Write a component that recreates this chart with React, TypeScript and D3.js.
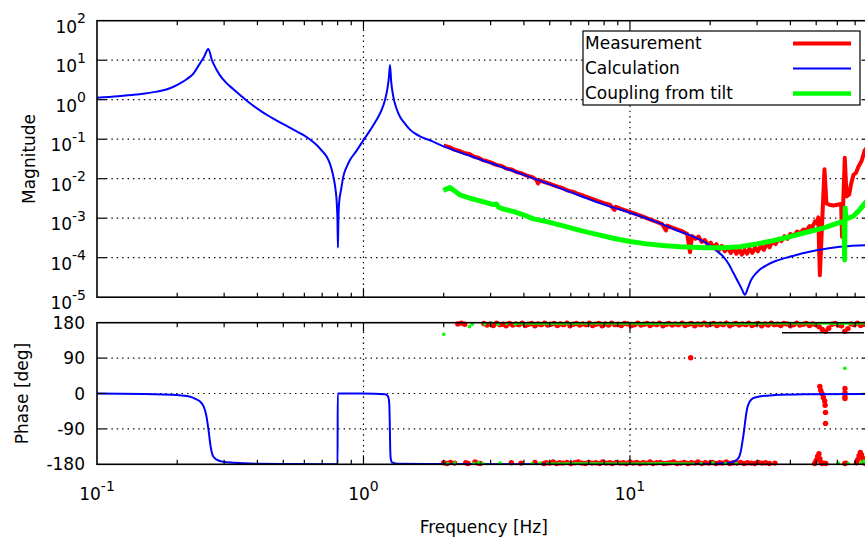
import React from "react";
import * as d3 from "d3";

const W = 865;
const H = 539;

// ---------- Calculation (blue) ----------
const calcFreq = [0.1, 0.12, 0.14, 0.1675, 0.188, 0.205, 0.217, 0.23, 0.2435, 0.252, 0.2617, 0.27, 0.28, 0.289, 0.305, 0.325, 0.345, 0.364, 0.386, 0.415, 0.446, 0.48, 0.515, 0.555, 0.594, 0.63, 0.667, 0.7, 0.728, 0.75, 0.771, 0.785, 0.794, 0.799, 0.802, 0.805, 0.81, 0.825, 0.84, 0.865, 0.89, 0.94, 1.0, 1.06, 1.12, 1.17, 1.205, 1.23, 1.245, 1.258, 1.27, 1.294, 1.33, 1.371, 1.43, 1.495, 1.56, 1.63, 1.777, 2.0, 2.5, 3.0, 4.0, 5.0, 6.5, 8.0, 10, 12.5, 15.4, 17.3, 19.4, 21, 22.4, 23.5, 24.4, 25.5, 26.3, 27.0, 27.7, 28.4, 29.0, 30.5, 32.6, 35.5, 39.8, 44.5, 50.2, 55, 61.4, 68, 76.2, 80];
const calcMag = [1.12, 1.22, 1.35, 1.6, 1.95, 2.6, 3.3, 4.6, 8.3, 12, 19.2, 10, 6.0, 4.2, 2.7, 1.85, 1.3, 0.95, 0.7, 0.5, 0.37, 0.28, 0.216, 0.165, 0.128, 0.098, 0.071, 0.05, 0.036, 0.023, 0.0113, 0.0055, 0.0024, 8e-4, 1.8e-4, 8e-4, 0.0024, 0.0055, 0.0113, 0.02, 0.0297, 0.05, 0.095, 0.17, 0.31, 0.55, 1.0, 1.9, 3.5, 7.6, 3.0, 1.2, 0.6, 0.37, 0.25, 0.175, 0.14, 0.118, 0.093, 0.066, 0.038, 0.025, 0.0125, 7.2e-3, 3.7e-3, 2.2e-3, 1.38e-3, 8.2e-4, 4.6e-4, 3.4e-4, 2.3e-4, 1.55e-4, 1.06e-4, 6.8e-5, 4.2e-5, 2.4e-5, 1.6e-5, 1.15e-5, 1.7e-5, 2.6e-5, 3.3e-5, 4.8e-5, 6.5e-5, 8.4e-5, 1.06e-4, 1.3e-4, 1.55e-4, 1.72e-4, 1.9e-4, 2.0e-4, 2.08e-4, 2.1e-4];
const calcPhaseFreq = [0.1, 0.15, 0.2, 0.22, 0.235, 0.245, 0.252, 0.257, 0.262, 0.267, 0.272, 0.281, 0.3, 0.325, 0.4, 0.6, 0.7995, 0.8005, 0.9, 1.1, 1.2, 1.23, 1.245, 1.252, 1.256, 1.26, 1.265, 1.28, 1.35, 2, 10, 20, 23, 24.5, 25.5, 26.0, 26.4, 26.8, 27.1, 27.6, 28.2, 29, 31, 35, 45, 80];
const calcPhase = [0, -1, -4, -7, -14, -22, -35, -55, -92, -135, -158, -168, -174, -176, -178.5, -179.5, -180, 0, 0, -0.5, -2, -5, -15, -40, -90, -140, -165, -175, -178.5, -179.5, -180, -179, -177, -173, -165, -150, -125, -95, -68, -35, -20, -12, -7, -4, -2, -1];

// ---------- Measurement (red) ----------
const measFreq = [2.0, 2.1, 2.2, 2.3, 2.4, 2.5, 2.6, 2.7, 2.8, 2.9, 3.0, 3.15, 3.3, 3.45, 3.6, 3.75, 3.9, 4.1, 4.3, 4.45, 4.52, 4.6, 4.75, 4.9, 5.1, 5.35, 5.6, 5.85, 6.1, 6.4, 6.7, 7.0, 7.3, 7.6, 8.0, 8.4, 8.75, 8.85, 9.2, 9.6, 10, 10.5, 11, 11.5, 12, 12.6, 13.2, 13.65, 13.8, 14.4, 15, 15.7, 16.4, 16.8, 17.1, 17.6, 18.1, 18.6, 19.1, 19.6, 20.1, 20.6, 21.1, 21.6, 22.1, 22.7, 23.3, 23.9, 24.5, 25.1, 25.7, 26.3, 26.9, 27.5, 28.1, 28.8, 29.5, 30.2, 31.0, 31.8, 32.6, 33.4, 34.3, 35.2, 36.1, 37.0, 38.0, 39.0, 40.0, 41.2, 42.4, 43.6, 44.8, 46.0, 47.2, 48.4, 49.5, 50.3, 50.9, 51.6, 53.7, 54.6, 56, 58, 60, 62.0, 62.5, 64.0, 65, 66.5, 67.5, 69, 70.5, 72, 74, 76, 80];
const measMag = [6.9e-2, 6.3e-2, 5.4e-2, 5.0e-2, 4.4e-2, 4.2e-2, 3.6e-2, 3.4e-2, 2.95e-2, 2.8e-2, 2.6e-2, 2.24e-2, 2.09e-2, 1.78e-2, 1.7e-2, 1.48e-2, 1.38e-2, 1.2e-2, 1.1e-2, 9.5e-3, 7.6e-3, 9.1e-3, 8.3e-3, 7.8e-3, 7.1e-3, 6.3e-3, 5.75e-3, 5.0e-3, 4.7e-3, 4.1e-3, 3.7e-3, 3.3e-3, 3.0e-3, 2.7e-3, 2.4e-3, 2.2e-3, 1.62e-3, 1.95e-3, 1.74e-3, 1.58e-3, 1.45e-3, 1.29e-3, 1.15e-3, 1.02e-3, 9.1e-4, 8.1e-4, 7.1e-4, 4.9e-4, 6.5e-4, 5.75e-4, 5.2e-4, 4.7e-4, 4.0e-4, 1.38e-4, 3.55e-4, 3.0e-4, 3.4e-4, 2.5e-4, 2.8e-4, 2.1e-4, 2.4e-4, 1.78e-4, 2.2e-4, 1.58e-4, 2.0e-4, 1.45e-4, 1.82e-4, 1.32e-4, 1.74e-4, 1.26e-4, 1.66e-4, 1.2e-4, 1.58e-4, 1.26e-4, 1.7e-4, 1.32e-4, 1.82e-4, 1.45e-4, 2.0e-4, 1.58e-4, 2.3e-4, 1.82e-4, 2.63e-4, 2.2e-4, 3.0e-4, 2.63e-4, 3.5e-4, 3.0e-4, 4.0e-4, 3.55e-4, 4.6e-4, 4.2e-4, 5.2e-4, 5.0e-4, 6.3e-4, 6.0e-4, 8.3e-4, 7.6e-4, 1.05e-3, 3.6e-5, 1.74e-2, 2.4e-3, 2.2e-3, 2.1e-3, 2.2e-3, 2.3e-3, 3.4e-4, 3.4e-2, 3.55e-3, 4.0e-3, 7.1e-3, 1.26e-2, 1.41e-2, 2.0e-2, 2.8e-2, 5.2e-2, 7.9e-2];

// ---------- Coupling from tilt (green) ----------
const tiltFreq = [1.993, 2.11, 2.3, 2.51, 2.74, 3.07, 3.15, 3.21, 3.35, 3.65, 3.98, 4.34, 4.87, 5.62, 6.49, 7.5, 8.65, 10, 11.55, 13.3, 15.4, 19.4, 22.4, 25.9, 29.9, 34.5, 39.8, 46, 53.1, 61.4, 63.6, 63.9, 64.2, 64.6, 68.9, 72.5, 76.2, 80];
const tiltMag = [5.0e-3, 6.0e-3, 3.9e-3, 3.2e-3, 2.75e-3, 2.2e-3, 2.3e-3, 1.9e-3, 1.7e-3, 1.48e-3, 1.22e-3, 9.6e-4, 8.2e-4, 6.4e-4, 4.9e-4, 3.9e-4, 3.1e-4, 2.57e-4, 2.24e-4, 2.04e-4, 1.9e-4, 1.78e-4, 1.78e-4, 1.9e-4, 2.24e-4, 2.7e-4, 3.4e-4, 4.4e-4, 5.6e-4, 7.8e-4, 8.3e-4, 8.7e-5, 1.82e-3, 9.5e-4, 1.12e-3, 1.58e-3, 2.4e-3, 3.55e-3];

// ---------- Phase scatter: measurement (red) ----------
const measPhTopFreq = [2.26, 2.33, 2.40, 2.83, 2.91, 2.99, 3.07, 3.16, 3.25, 3.34, 3.43, 3.53, 3.63, 3.73, 3.83, 3.94, 4.05, 4.16, 4.28, 4.40, 4.52, 4.65, 4.78, 4.91, 5.05, 5.19, 5.34, 5.49, 5.64, 5.80, 5.96, 6.13, 6.30, 6.48, 6.66, 6.85, 7.04, 7.24, 7.44, 7.65, 7.86, 8.08, 8.31, 8.54, 8.78, 9.03, 9.28, 9.54, 9.81, 10.1, 10.4, 10.7, 11.0, 11.3, 11.6, 11.9, 12.2, 12.6, 12.9, 13.3, 13.7, 14.0, 14.4, 14.8, 15.2, 15.7, 16.1, 16.6, 17.0, 17.5, 18.0, 18.5, 19.0, 19.5, 20.1, 20.6, 21.2, 21.8, 22.4, 23.0, 23.7, 24.3, 25.0, 25.7, 26.4, 27.2, 27.9, 28.7, 29.5, 30.3, 31.2, 32.1, 33.0, 33.9, 34.8, 35.8, 36.8, 37.8, 38.9, 40.0, 41.1, 42.3, 43.4, 44.7, 45.9, 47.2, 48.5, 49.9, 51.3, 52.7, 54.2, 55.7, 57.3, 58.9, 60.5, 62.2, 64.0, 65.8, 67.6, 69.5, 71.4, 73.4, 75.5, 77.6, 79.8];
const measPhTop = [177, 179, 176, 178, 174, 177, 173, 179, 175, 176, 172, 178, 174, 177, 175, 179, 173, 176, 178, 172, 177, 175, 179, 174, 176, 178, 173, 177, 175, 179, 172, 176, 178, 174, 177, 175, 179, 173, 176, 178, 172, 177, 174, 179, 175, 176, 173, 178, 177, 172, 175, 179, 174, 176, 178, 173, 177, 175, 179, 172, 176, 178, 174, 177, 175, 179, 173, 176, 178, 172, 177, 175, 179, 174, 176, 178, 173, 177, 175, 179, 172, 176, 178, 174, 177, 175, 179, 173, 176, 178, 172, 177, 174, 179, 175, 176, 173, 178, 177, 172, 175, 179, 174, 176, 178, 173, 177, 175, 170, 163, 158, 166, 176, 178, 174, 172, 158, 165, 177, 175, 179, 173, 176, 178, 174];
const measPhBotFreq = [2.0, 2.06, 2.12, 2.2, 2.42, 2.47, 2.62, 2.68, 2.74, 3.59, 3.9, 4.4, 4.75, 4.85, 5.0, 5.15, 5.3, 5.45, 5.6, 5.8, 6.0, 6.2, 6.4, 6.6, 6.8, 7.0, 7.2, 7.45, 7.7, 7.9, 8.15, 8.4, 8.6, 8.9, 9.2, 9.45, 9.7, 10.0, 10.3, 10.6, 10.9, 11.2, 11.5, 11.9, 12.2, 12.6, 13.0, 13.4, 13.8, 14.2, 14.6, 15.0, 15.5, 16.0, 16.5, 17.0, 17.5, 18.0, 18.6, 19.2, 19.8, 20.4, 21.0, 21.7, 22.3, 23.0, 23.7, 24.4, 25.2, 26.0, 26.8, 27.6, 28.5, 29.4, 30.3, 31.3, 32.3, 33.4, 35.0, 49.3, 50.0, 50.6, 51.2, 51.6, 52.1, 52.6, 53.4, 54.3, 64.0, 64.6, 70.8, 71.6, 72.4, 73.2, 74.0, 74.8, 75.6, 76.4];
const measPhBot = [-176, -178, -175, -177, -176, -178, -174, -177, -178, -176, -177, -175, -178, -176, -177, -174, -178, -176, -177, -175, -178, -176, -174, -177, -178, -175, -177, -176, -178, -174, -177, -176, -178, -175, -177, -176, -178, -174, -177, -175, -178, -176, -177, -174, -178, -176, -175, -178, -177, -176, -174, -178, -177, -175, -178, -176, -177, -174, -178, -176, -177, -175, -178, -176, -177, -174, -178, -176, -177, -175, -178, -176, -177, -178, -175, -177, -176, -178, -177, -178, -170, -160, -153, -166, -175, -178, -177, -178, -178, -177, -176, -168, -158, -150, -156, -165, -174, -178];
const measPhOutFreq = [16.9, 51.6, 52.0, 52.5, 53.2, 53.8, 54.0, 54.2, 54.2, 64.1, 64.1, 64.1, 64.1];
const measPhOut = [91, 18, 8, 0, -10, -19, -30, -48, -76, 13, 2, -8, -13];

// ---------- Phase: coupling from tilt (green) ----------
const tiltPhFreq = [2.0, 2.07, 2.2, 2.5, 2.56, 2.6, 2.7, 2.8, 2.85, 3.0, 3.2, 3.25, 3.45, 3.7, 4.3, 4.6, 18.5, 20.5, 22.8, 25.1, 60.5, 64.0, 66.0, 73.5, 75.5, 76.5];
const tiltPh = [150.5, -178, -177, 170, 176, -178, -176, -178, 177, 179, 176, -177, 178, 177, -178, -177, -178, -177, -178, -178, -177, 64, -178, -176, -172, -177];
const tiltBandTopFreq = [3.7, 5, 8, 12, 20, 30, 45, 60, 80];
const tiltBandTop = [178.5, 178.3, 178.6, 178.4, 178.6, 178.4, 178.5, 178.3, 178.5];
const tiltBandBotFreq = [4.85, 7, 10, 13, 17.5];
const tiltBandBot = [-178.6, -178.4, -178.6, -178.4, -178.6];
const blackSegFreq = [37.2, 75.6];
const blackSegPhase = [154.6, 154.6];

// ---------- axes ----------
const magTicks = [1e-5, 1e-4, 1e-3, 1e-2, 1e-1, 1e0, 1e1, 1e2];
const magExps = ["-5", "-4", "-3", "-2", "-1", "0", "1", "2"];
const phaseTicks = [-180, -90, 0, 90, 180];
const freqMajor = [0.1, 1, 10];
const freqExps = ["-1", "0", "1"];
const freqMinor = [0.2, 0.3, 0.4, 0.5, 0.6, 0.7, 0.8, 0.9, 2, 3, 4, 5, 6, 7, 8, 9, 20, 30, 40, 50, 60, 70];

const legendLabels = ["Measurement", "Calculation", "Coupling from tilt"];
const legendColors = ["#ff0000", "#0000ff", "#00ff00"];
const legendWidths = [4, 2, 4.5];

const FONT = "'DejaVu Sans', Verdana, sans-serif";

export default function App() {
  const L = 97, R = 870.6;
  const x = d3.scaleLog().domain([0.1, 80]).range([L, R]);
  const yM = d3.scaleLog().domain([1e-5, 1e2]).range([297.2, 20.7]);
  const yP = d3.scaleLinear().domain([-180, 180]).range([464.3, 322.7]);

  const magLine = d3.line<[number, number]>().x((d) => x(d[0])).y((d) => yM(d[1]));
  const magLineSmooth = d3.line<[number, number]>().x((d) => x(d[0])).y((d) => yM(d[1])).curve(d3.curveMonotoneX);
  const phLine = d3.line<[number, number]>().x((d) => x(d[0])).y((d) => yP(d[1]));
  const phLineSmooth = d3.line<[number, number]>().x((d) => x(d[0])).y((d) => yP(d[1])).curve(d3.curveMonotoneX);

  const zip = (a: number[], b: number[]) => a.map((v, i) => [v, b[i]] as [number, number]);

  const topY0 = yM(1e2), topY1 = yM(1e-5);
  const botY0 = yP(180), botY1 = yP(-180);
  const dotted = "1.4 4";
  const bw = 1.6;

  const xTicksFor = (y0: number, y1: number, key: string) => (
    <g key={key} stroke="#000" strokeWidth={1.2}>
      {freqMinor.map((f) => (
        <g key={"m" + f}>
          <line x1={x(f)} x2={x(f)} y1={y1} y2={y1 - 4.5} />
          <line x1={x(f)} x2={x(f)} y1={y0} y2={y0 + 4.5} />
        </g>
      ))}
      {[1, 10].map((f) => (
        <g key={"M" + f}>
          <line x1={x(f)} x2={x(f)} y1={y1} y2={y1 - 9} />
          <line x1={x(f)} x2={x(f)} y1={y0} y2={y0 + 9} />
        </g>
      ))}
    </g>
  );

  return (
    <svg width={W} height={H} style={{ position: "absolute", left: 0, top: 0, background: "#fff" }} fontFamily={FONT}>
      <defs>
        <clipPath id="clipTop">
          <rect x={L} y={topY0} width={R - L} height={topY1 - topY0} />
        </clipPath>
        <clipPath id="clipBot">
          <rect x={L} y={botY0 - 5} width={R - L} height={botY1 - botY0 + 10} />
        </clipPath>
        <clipPath id="clipBotLine">
          <rect x={L} y={botY0} width={R - L} height={botY1 - botY0} />
        </clipPath>
      </defs>
      <rect x={0} y={0} width={W} height={H} fill="#fff" />

      {/* grids */}
      <g stroke="#000" strokeWidth={1.2} strokeDasharray={dotted}>
        {magTicks.slice(1, -1).map((m) => (
          <line key={"gm" + m} x1={L + 9} x2={R - 9} y1={yM(m)} y2={yM(m)} />
        ))}
        {[1, 10].map((f) => (
          <line key={"gx" + f} x1={x(f)} x2={x(f)} y1={topY0 + 9} y2={topY1 - 9} />
        ))}
        {[-90, 0, 90].map((p) => (
          <line key={"gp" + p} x1={L + 9} x2={R - 9} y1={yP(p)} y2={yP(p)} />
        ))}
        {[1, 10].map((f) => (
          <line key={"gx2" + f} x1={x(f)} x2={x(f)} y1={botY0 + 9} y2={botY1 - 9} />
        ))}
      </g>

      {/* magnitude curves */}
      <g clipPath="url(#clipTop)" fill="none" strokeLinejoin="round">
        <path d={magLine(zip(measFreq, measMag)) || ""} stroke="#ff0000" strokeWidth={4} />
        <path d={magLineSmooth(zip(calcFreq, calcMag)) || ""} stroke="#0000ff" strokeWidth={2} />
        <path d={magLine(zip(tiltFreq, tiltMag)) || ""} stroke="#00ff00" strokeWidth={5} />
      </g>

      {/* phase */}
      <g clipPath="url(#clipBot)">
        {zip(measPhTopFreq, measPhTop).map((d, i) => (
          <circle key={"rt" + i} cx={x(d[0])} cy={yP(d[1])} r={2.7} fill="#ff0000" />
        ))}
        {zip(measPhBotFreq, measPhBot).map((d, i) => (
          <circle key={"rb" + i} cx={x(d[0])} cy={yP(d[1])} r={2.7} fill="#ff0000" />
        ))}
        {zip(measPhOutFreq, measPhOut).map((d, i) => (
          <circle key={"ro" + i} cx={x(d[0])} cy={yP(d[1])} r={2.7} fill="#ff0000" />
        ))}
      </g>
      <g clipPath="url(#clipBotLine)" fill="none">
        <path d={phLineSmooth(zip(calcPhaseFreq, calcPhase)) || ""} stroke="#0000ff" strokeWidth={2} />
        <path d={phLine(zip(blackSegFreq, blackSegPhase)) || ""} stroke="#000" strokeWidth={1.6} />
      </g>
      <g clipPath="url(#clipBot)">
        <path d={phLine(zip(tiltBandTopFreq, tiltBandTop)) || ""} stroke="#00ff00" strokeWidth={2.6} fill="none" />
        <path d={phLine(zip(tiltBandBotFreq, tiltBandBot)) || ""} stroke="#00ff00" strokeWidth={2.6} fill="none" />
        {zip(tiltPhFreq, tiltPh).map((d, i) => (
          <circle key={"g" + i} cx={x(d[0])} cy={yP(d[1])} r={1.8} fill="#00ff00" />
        ))}
      </g>

      {/* borders */}
      <rect x={L} y={topY0} width={R - L} height={topY1 - topY0} fill="none" stroke="#000" strokeWidth={bw} />
      <rect x={L} y={botY0} width={R - L} height={botY1 - botY0} fill="none" stroke="#000" strokeWidth={bw} />

      {/* ticks */}
      {xTicksFor(topY0, topY1, "tt")}
      {xTicksFor(botY0, botY1, "bt")}
      <g stroke="#000" strokeWidth={1.2}>
        {magTicks.slice(1, -1).map((m) => (
          <g key={"ym" + m}>
            <line x1={L} x2={L + 9} y1={yM(m)} y2={yM(m)} />
            <line x1={R} x2={R - 9} y1={yM(m)} y2={yM(m)} />
          </g>
        ))}
        {[-90, 0, 90].map((p) => (
          <g key={"yp" + p}>
            <line x1={L} x2={L + 9} y1={yP(p)} y2={yP(p)} />
            <line x1={R} x2={R - 9} y1={yP(p)} y2={yP(p)} />
          </g>
        ))}
      </g>

      {/* tick labels */}
      <g fontSize={17} fill="#000">
        {magTicks.map((m, i) => (
          <text key={"lm" + m} x={86} y={yM(m) + 12} textAnchor="end">
            10
            <tspan fontSize={14} dy={-9.5}>{magExps[i]}</tspan>
          </text>
        ))}
        {phaseTicks.map((p) => (
          <text key={"lp" + p} x={85} y={yP(p)} dy="0.36em" textAnchor="end">
            {String(p)}
          </text>
        ))}
        {freqMajor.map((f, i) => (
          <text key={"lf" + f} x={x(f)} y={500} textAnchor="middle">
            10
            <tspan fontSize={14} dy={-9.5}>{freqExps[i]}</tspan>
          </text>
        ))}
        <text x={(L + R) / 2} y={533} textAnchor="middle">Frequency [Hz]</text>
        <text transform={`translate(35,${(topY0 + topY1) / 2}) rotate(-90)`} textAnchor="middle">Magnitude</text>
        <text transform={`translate(28,${(botY0 + botY1) / 2}) rotate(-90)`} textAnchor="middle">Phase [deg]</text>
      </g>

      {/* legend */}
      <g>
        <rect x={583} y={31} width={277} height={74} fill="#fff" stroke="#000" strokeWidth={1.2} />
        {legendLabels.map((lab, i) => (
          <g key={lab}>
            <text x={585} y={49 + i * 25} fontSize={17} fill="#000">{lab}</text>
            <line x1={793} x2={851} y1={43.5 + i * 25} y2={43.5 + i * 25} stroke={legendColors[i]} strokeWidth={legendWidths[i]} />
          </g>
        ))}
      </g>
    </svg>
  );
}
